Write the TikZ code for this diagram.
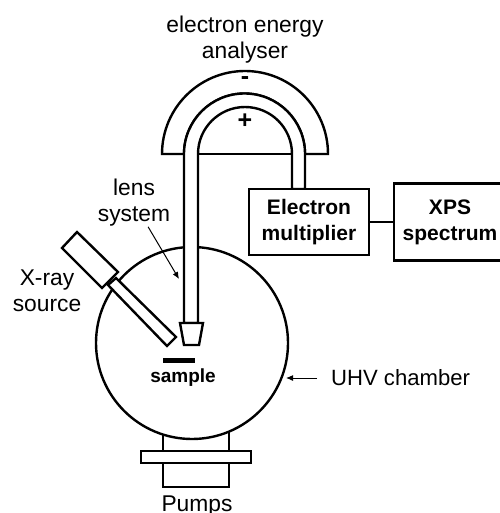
\documentclass[tikz,border=0pt]{standalone}
\usepackage{fontspec}
\setmainfont{Liberation Sans}
\usetikzlibrary{positioning,arrows.meta}
\begin{document}
\begin{tikzpicture}[x=1pt,y=1pt,
        part/.style={draw, line width=2.4pt, fill=white},
        unit/.style={part, outer sep=0pt, inner sep=0pt, align=center,
                     font=\fontsize{21}{26}\selectfont\bfseries},
        lbl/.style={inner sep=0pt, align=center, font=\fontsize{22.8}{26}\selectfont},
        ar/.style={-{Latex[length=7pt,width=6pt]}, line width=1pt},
      ]
      \useasboundingbox (0,-513) rectangle (499,0);
      % pumps below the chamber
      \draw[part] (163,-420) rectangle (229,-487);
      \draw[part] (141,-451) rectangle (251,-463);
      \node[part, circle, outer sep=0pt, inner sep=0pt, minimum size=192pt] (chamber) at (192,-343) {};
      % analyser
      \draw[part] (162,-154) arc[start angle=180, end angle=0, radius=83] -- (305,-154)
        arc[start angle=0, end angle=180, radius=60.5] -- cycle;
      \draw[part] (184,-323) -- (184,-154) arc[start angle=180, end angle=0, radius=60.5]
        -- (305,-189) -- (292,-189) -- (292,-154)
        arc[start angle=0, end angle=180, radius=47] -- (198,-323) -- cycle;
      \draw[line width=2.4pt] (198,-154) -- (292,-154);
      \draw[part] (180,-323) -- (203,-323) -- (199,-345) -- (184,-345) -- cycle;
      \fill (163,-358) rectangle (195,-363);
      % x-ray source
      \draw[part] (108,-285) -- (116,-278) -- (176,-337) -- (167,-346) -- cycle;
      \draw[part] (77,-232) -- (62,-248) -- (102,-288) -- (118,-272) -- cycle;
      % boxes
      \node[unit, minimum width=120pt, minimum height=66pt] (mult) at (309,-222) {Electron\\multiplier};
      \node[unit, minimum width=112pt, minimum height=77pt, right=25pt of mult] (spec) {XPS\\spectrum};
      \draw[line width=2.4pt] (mult) -- (spec);
      % labels
      \node[lbl] (analyser) at (245,-40) {electron energy\\analyser};
      \node[lbl, font=\fontsize{25}{26}\selectfont\bfseries] at (245,-81) {-};
      \node[lbl, font=\fontsize{25}{26}\selectfont\bfseries] at (245,-121) {+};
      \node[lbl] (lens) at (134,-203) {lens\\system};
      \node[lbl] (xray) at (47,-291) {X-ray\\source};
      \node[lbl, font=\fontsize{19}{23}\selectfont\bfseries] (sample) at (183,-378) {sample};
      \node[lbl, anchor=west, font=\fontsize{22.1}{26}\selectfont] (uhv) at (331,-378) {UHV chamber};
      \node[lbl] (pumps) at (197,-506) {Pumps};
      \coordinate (lenstip) at (179,-279);
      \coordinate (uhvtip) at (286,-378);
      \draw[ar] (lens) -- (lenstip);
      \draw[ar] ([xshift=-14pt]uhv.west) -- (uhvtip);
    \end{tikzpicture}
\end{document}
